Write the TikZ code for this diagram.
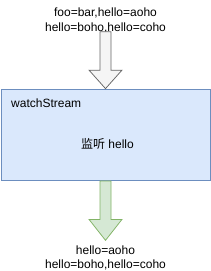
\documentclass[tikz,border=0pt]{standalone}
\usepackage{fontspec}
\setmainfont{Liberation Sans}
\newfontfamily\cjk{Noto Sans CJK SC}
\usetikzlibrary{calc}
\definecolor{streamfill}{HTML}{DAE8FC}
\definecolor{streamdraw}{HTML}{6C8EBF}
\definecolor{infill}{HTML}{F5F5F5}
\definecolor{indraw}{HTML}{666666}
\definecolor{outfill}{HTML}{D5E8D4}
\definecolor{outdraw}{HTML}{82B366}

\begin{document}
\begin{tikzpicture}[x=1bp, y=-1bp,
  font=\fontsize{12bp}{14.3bp}\selectfont,
  txt/.style={inner sep=0pt, align=center, anchor=base},
  box/.style={draw=streamdraw, fill=streamfill, line width=0.75bp,
              minimum width=209bp, minimum height=91.5bp, inner sep=0pt},
  blockarrow/.style={line width=0.75bp, line join=miter}
]
\useasboundingbox (0,0) rectangle (211,271);
\node[box] (stream) at (105.5,134.75) {};
\node[txt, anchor=base west] (title) at (11,107.3) {watchStream};
\node[txt] (watch) at (107.5,148) {{\cjk 监听} hello};
\node[txt] (intext) at (105.5,31) {foo=bar,hello=aoho\\hello=boho,hello=coho};
\node[txt] (outtext) at (105.5,268.3) {hello=aoho\\hello=boho,hello=coho};
% block arrows in and out of the stream
\draw[blockarrow, draw=indraw, fill=infill, shift={(stream.north)}]
  (-5.5,-57) -- (5.5,-57) -- (5.5,-18.5) -- (16.5,-18.5) -- (0,0)
  -- (-16.5,-18.5) -- (-5.5,-18.5) -- cycle;
\draw[blockarrow, draw=outdraw, fill=outfill, shift={(stream.south)}]
  (-5.5,0) -- (5.5,0) -- (5.5,38.5) -- (16.5,38.5) -- (0,59.5)
  -- (-16.5,38.5) -- (-5.5,38.5) -- cycle;
\end{tikzpicture}
\end{document}
